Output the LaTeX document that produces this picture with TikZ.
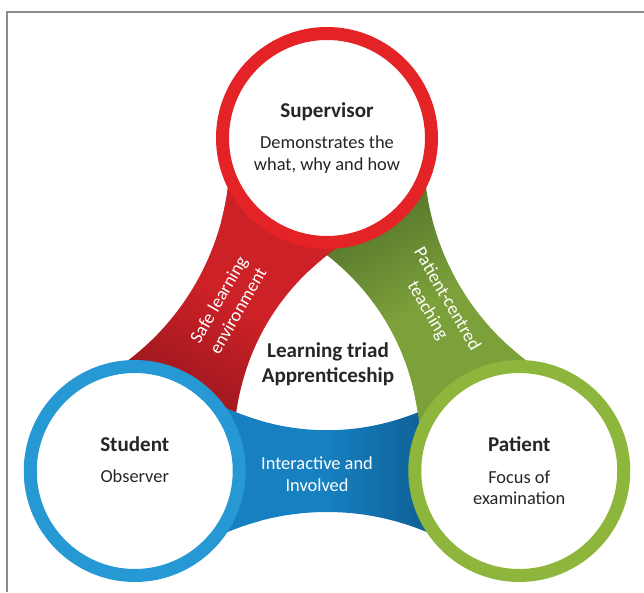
\documentclass[tikz,border=0pt]{standalone}
\usepackage{fontspec}
\setmainfont{Carlito}
\usepackage{xcolor}
\usepackage{tikz}
\usetikzlibrary{
    positioning
}

\definecolor{supred}{RGB}{228,35,39}
\definecolor{redband}{RGB}{203,33,39}
\definecolor{reddark}{RGB}{130,18,24}
\definecolor{stublue}{RGB}{38,152,212}
\definecolor{blueband}{RGB}{22,128,192}
\definecolor{bluedark}{RGB}{8,66,110}
\definecolor{patgreen}{RGB}{142,182,60}
\definecolor{greenband}{RGB}{124,160,58}
\definecolor{greendark}{RGB}{66,96,36}
\definecolor{framegray}{RGB}{140,140,140}

% one connecting band, written as if it ran along the bottom
\newcommand{\bandpath}{%
    (210:222) -- (-150,-200)
    .. controls (-60,-136) and (60,-136) .. (150,-200)
    -- (330:222) -- (150,-20)
    .. controls (55,-87) and (-55,-87) .. (-150,-20)
    -- cycle}

\begin{document}
\begin{tikzpicture}[
    x=0.3mm,
    y=0.3mm,
    ring/.style={
        circle,
        draw=#1,
        fill=white,
        line width=3.9mm,
        minimum size=62.7mm,
        inner sep=0pt
    },
    circletext/.style={
        font=\fontsize{15.7}{18.5}\selectfont,
        text=black!85,
        align=center
    },
    bandtext/.style={
        font=\fontsize{15.7}{19}\selectfont,
        text=white,
        align=center
    },
    centretext/.style={
        font=\fontsize{18}{21}\selectfont\bfseries,
        text=black!85,
        align=center
    }
]

\useasboundingbox (0,0) rectangle (644,592);

% ============================================================
% FRAME
% ============================================================

\draw[framegray, line width=0.5mm]
    (7,0) -- (7,580) -- (644,580);

\begin{scope}[shift={(327,232)}]

% ============================================================
% BANDS (each one slides under the next ring)
% ============================================================

\foreach \rot/\base/\dark in {240/redband/reddark,
                             120/greenband/greendark,
                             0/blueband/bluedark}{
    \pgfmathsetmacro{\shang}{90+\rot}
    \begin{scope}[rotate=\rot]
        \shade[left color=\base, right color=\dark,
               middle color=\base, shading angle=\shang]
            \bandpath;
    \end{scope}
}

% own band again on top, close to its own ring
\foreach \rot/\base/\dark in {240/redband/reddark,
                             120/greenband/greendark,
                             0/blueband/bluedark}{
    \pgfmathsetmacro{\shang}{90+\rot}
    \begin{scope}[rotate=\rot]
        \clip (210:222) circle (135);
        \shade[left color=\base, right color=\dark,
               middle color=\base, shading angle=\shang]
            \bandpath;
    \end{scope}
}

% ============================================================
% RINGS
% ============================================================

\node[ring=supred]   (sup) at (90:222)  {};
\node[ring=stublue]  (stu) at (210:222) {};
\node[ring=patgreen] (pat) at (330:222) {};

% ring texts
\node[circletext] (suptext) at (sup)
{
{\bfseries\fontsize{18}{20}\selectfont Supervisor}\\[8pt]
Demonstrates the\\
what, why and how
};

\node[circletext, yshift=3.3mm] (stutext) at (stu)
{
{\bfseries\fontsize{18}{20}\selectfont Student}\\[8pt]
Observer
};

\node[circletext] (pattext) at (pat)
{
{\bfseries\fontsize{18}{20}\selectfont Patient}\\[8pt]
Focus of\\
examination
};

% ============================================================
% BAND LABELS
% ============================================================

\node[bandtext, rotate=60] (safe) at (-99,55)
{Safe learning\\environment};

\node[bandtext, rotate=-60] (centred) at (110,55)
{Patient-centred\\teaching};

\node[bandtext] (involved) at (-10,-114)
{Interactive and\\Involved};

% centre
\node[centretext] (triad) at (1,-4)
{Learning triad\\Apprenticeship};

\end{scope}

\end{tikzpicture}
\end{document}
